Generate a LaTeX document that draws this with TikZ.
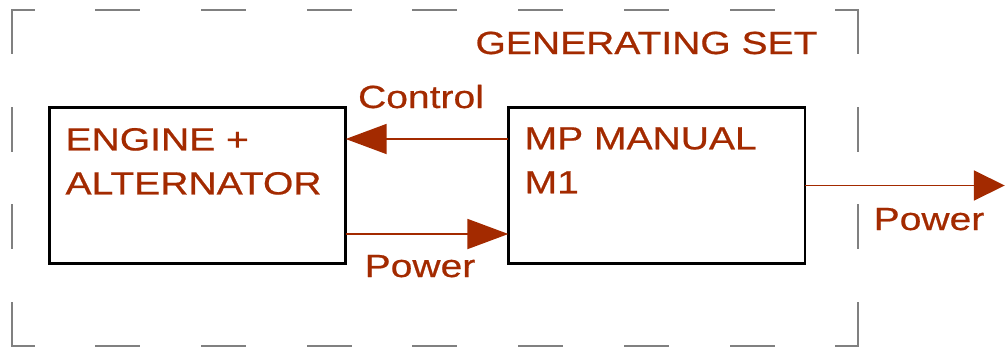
\documentclass[tikz,border=0pt]{standalone}
\usepackage{fontspec}
\setmainfont{Liberation Sans}[FakeStretch=1.22, FakeBold=0.6]
\usetikzlibrary{arrows.meta,positioning}
\definecolor{rust}{RGB}{163,42,0}
\definecolor{framegray}{gray}{0.5}

\begin{document}
\begin{tikzpicture}[
  x=0.75pt, y=-0.75pt,
  unit/.style={draw=black, line width=1.9pt, minimum width=222.3pt, minimum height=117.3pt, inner sep=0pt, outer sep=0pt},
  lbl/.style={text=rust, font=\fontsize{24}{33}\selectfont, inner sep=0pt, align=left},
  sig/.style={draw=rust, line width=1.4pt, -{Triangle[length=30.75pt, width=22.5pt]}},
  hframe/.style={draw=framegray, line width=1.5pt, line cap=rect, dash pattern=on 32.25pt off 47.06pt, dash phase=16.125pt},
  vframe/.style={draw=framegray, line width=1.5pt, line cap=rect, dash pattern=on 32.25pt off 41pt},
]
  \useasboundingbox (0,0) rectangle (1006,347);

  % generating set frame
  \coordinate (fnw) at (12,10);
  \coordinate (fse) at (858,346);
  \draw[hframe] (fnw) -- (fnw -| fse);
  \draw[hframe] (fnw |- fse) -- (fse);
  \draw[vframe] (fnw) -- (fnw |- fse);
  \draw[vframe] (fnw -| fse) -- (fse);
  \node[lbl, anchor=base] (setlbl) at (646.5,54) {GENERATING SET};

  % blocks
  \node[unit, anchor=north west] (engine) at (49.3,107.3) {};
  \node[unit, right=122pt of engine] (manual) {};

  \node[lbl, anchor=north west] (enginelbl) at ([shift={(16,20.5)}]engine.north west) {ENGINE +\\ALTERNATOR};
  \node[lbl, anchor=north west] (manuallbl) at ([shift={(16,19.7)}]manual.north west) {MP MANUAL\\M1};

  % signals
  \draw[sig] ([shift={(0,31.7)}]manual.north west) -- ([shift={(0,31.7)}]engine.north east);
  \draw[sig] ([shift={(0,126.7)}]engine.north east) -- ([shift={(0,126.7)}]manual.north west);
  \coordinate[right=150pt of manual.east] (out);
  \draw[sig, -{Triangle[length=23.25pt, width=22.5pt]}] (manual.east) -- (out);

  \node[lbl, anchor=base] (ctrllbl) at (421,108) {Control};
  \node[lbl, anchor=base] (pwrlbl) at (420,277) {Power};
  \node[lbl, anchor=base] (outlbl) at (929,230) {Power};
\end{tikzpicture}
\end{document}
